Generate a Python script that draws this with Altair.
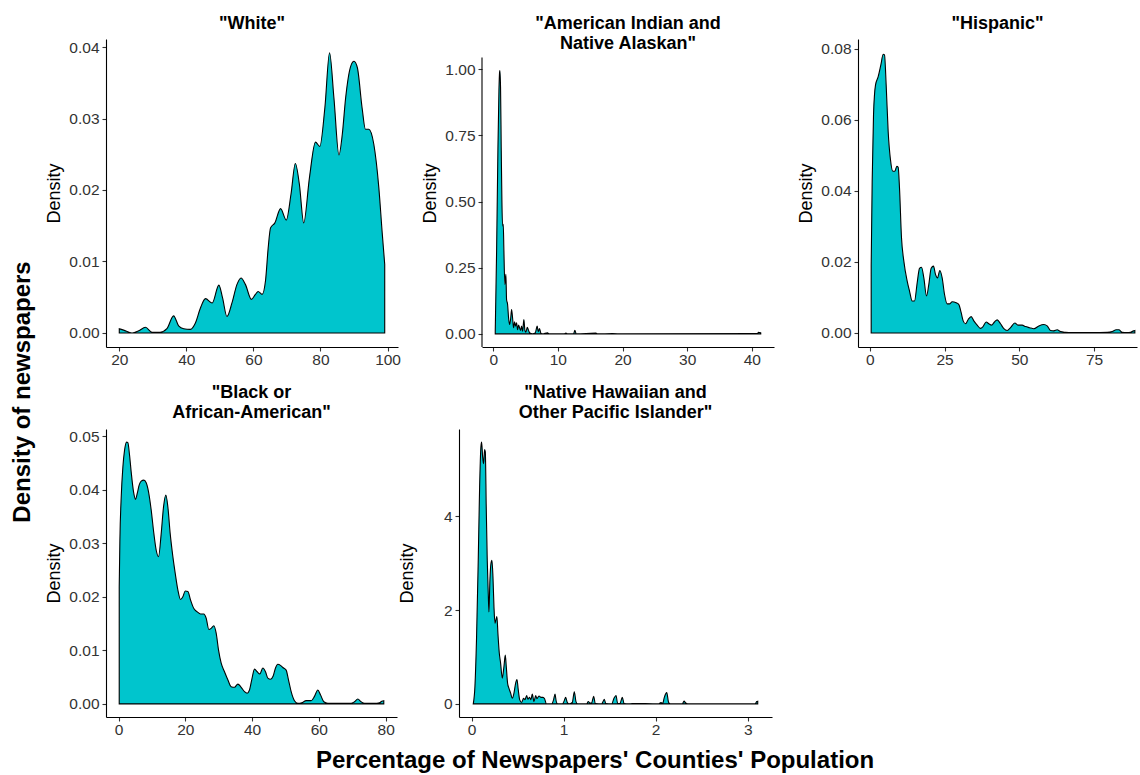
import altair as alt
import pandas as pd

FILL = "#00C5CD"
FONT = "Liberation Sans"

# ---- density curves (percentage of county population vs. density) ----
WHITE_X = [20.0, 21.3, 23.8, 25.8, 27.8, 29.8, 32.2, 34.2, 36.2, 37.7, 39.2, 41.2, 42.7, 44.2,
           45.7, 47.7, 49.7, 50.8, 52.1, 53.6, 55.1, 56.3, 57.6, 59.4, 60.6, 61.4, 62.6, 63.6,
           64.4, 65.1, 66.4, 68.1, 69.8, 71.2, 72.5, 73.7, 75.0, 76.7, 78.5, 79.8, 81.3, 82.7,
           84.0, 85.5, 86.5, 87.5, 89.0, 90.0, 91.0, 92.4, 93.4, 94.4, 95.9, 97.4, 98.4, 99.15]
WHITE_Y = [0.0006, 0.0004, 0.0, 0.0003, 0.0008, 0.0001, 0.0001, 0.0006, 0.0024, 0.0010, 0.0006,
           0.0005, 0.0014, 0.0035, 0.0048, 0.0042, 0.0067, 0.0049, 0.0023, 0.0042, 0.0068, 0.0077,
           0.0068, 0.0047, 0.0054, 0.0058, 0.0054, 0.0073, 0.0119, 0.0147, 0.0154, 0.0174, 0.0158,
           0.0194, 0.0237, 0.0208, 0.0154, 0.0217, 0.0267, 0.0261, 0.0315, 0.0392, 0.0329, 0.0249,
           0.0278, 0.0329, 0.0373, 0.0380, 0.0371, 0.0315, 0.0285, 0.0285, 0.0264, 0.0203, 0.0140,
           0.0096]

AIAN_X = [0.31, 0.52, 0.72, 0.88, 0.98, 1.03, 1.13, 1.24, 1.34, 1.44, 1.55, 1.65, 1.80, 1.96,
          2.06, 2.22, 2.37, 2.53, 2.68, 2.84, 2.99, 3.14, 3.30, 3.45, 3.61, 3.76, 3.92, 4.07,
          4.23, 4.38, 4.54, 4.74, 4.90, 5.05, 5.26, 5.46, 5.67, 6.08, 6.49, 6.80, 6.96, 7.16,
          7.37, 7.63, 8.40, 8.66, 10.98, 11.24, 11.49, 12.42, 12.63, 12.84, 15.88, 16.13, 18.45,
          20.0, 40.88, 41.03, 41.39]
AIAN_Y = [0.010, 0.313, 0.692, 0.919, 0.989, 0.995, 0.932, 0.692, 0.503, 0.408, 0.414, 0.313,
          0.187, 0.225, 0.130, 0.111, 0.061, 0.035, 0.054, 0.092, 0.061, 0.023, 0.045, 0.029,
          0.042, 0.016, 0.033, 0.023, 0.013, 0.029, 0.010, 0.054, 0.013, 0.006, 0.025, 0.013,
          0.003, 0.0, 0.003, 0.029, 0.008, 0.020, 0.003, 0.0, 0.004, 0.0, 0.0, 0.003, 0.0, 0.0,
          0.013, 0.0, 0.003, 0.0, 0.001, 0.0, 0.001, 0.006, 0.004]

HISP_X = [0.45, 0.78, 1.23, 1.90, 2.79, 3.68, 4.46, 4.91, 5.46, 6.13, 6.91, 7.69, 8.36, 9.03,
          9.48, 9.92, 10.59, 11.37, 12.49, 13.27, 14.16, 14.94, 15.83, 16.61, 17.28, 18.06,
          18.95, 19.73, 20.51, 21.29, 21.96, 22.63, 23.41, 24.19, 24.97, 25.86, 26.64, 27.54,
          28.87, 29.77, 30.55, 31.22, 32.0, 32.89, 33.89, 34.78, 35.90, 37.01, 37.79, 38.91,
          39.80, 40.69, 41.69, 42.59, 43.70, 44.82, 45.93, 47.05, 48.49, 49.61, 50.95, 52.06,
          53.40, 54.85, 56.52, 58.19, 59.31, 60.42, 61.54, 62.65, 63.77, 65.44, 67.67, 74.36,
          79.38, 81.05, 82.39, 83.28, 84.39, 86.06, 87.18, 88.18, 88.63]
HISP_Y = [0.0190, 0.0427, 0.0614, 0.0698, 0.0721, 0.0754, 0.0784, 0.0782, 0.0698, 0.0567,
          0.0487, 0.0455, 0.0455, 0.0469, 0.0466, 0.0408, 0.0268, 0.0202, 0.0146, 0.0118,
          0.0090, 0.0090, 0.0141, 0.0182, 0.0185, 0.0155, 0.0104, 0.0137, 0.0182, 0.0188,
          0.0165, 0.0155, 0.0176, 0.0155, 0.0109, 0.0082, 0.0082, 0.0088, 0.0085, 0.0080,
          0.0057, 0.0034, 0.0026, 0.0038, 0.0046, 0.0034, 0.0022, 0.0013, 0.0017, 0.0031,
          0.0026, 0.0022, 0.0031, 0.0037, 0.0026, 0.0012, 0.0007, 0.0015, 0.0028, 0.0022,
          0.0022, 0.0018, 0.0015, 0.0012, 0.0020, 0.0024, 0.0020, 0.0007, 0.0006, 0.0009,
          0.0004, 0.0002, 0.0001, 0.0001, 0.0002, 0.0004, 0.0009, 0.0009, 0.0002, 0.0001,
          0.0002, 0.0006, 0.0007]

BLACK_X = [0.2, 0.4, 0.8, 1.3, 1.8, 2.4, 2.79, 3.29, 3.79, 4.49, 5.09, 5.59, 6.19, 6.79, 7.58,
           8.28, 8.98, 9.78, 10.58, 11.28, 11.98, 12.77, 13.47, 14.17, 14.77, 15.47, 16.27,
           16.97, 17.76, 18.56, 19.26, 19.96, 20.76, 21.56, 22.55, 23.55, 24.55, 25.55, 26.25,
           27.05, 27.74, 28.54, 29.24, 29.94, 30.74, 31.74, 32.73, 33.73, 34.73, 35.73, 36.73,
           37.72, 38.52, 39.22, 39.92, 40.72, 41.52, 42.32, 43.21, 44.01, 44.71, 45.51, 46.31,
           47.01, 47.70, 48.50, 49.20, 50.20, 50.90, 51.70, 52.69, 53.69, 54.89, 56.19, 57.68,
           58.68, 59.68, 60.48, 61.48, 62.67, 65.67, 69.66, 70.66, 71.66, 72.65, 73.65, 76.65,
           78.14, 78.84, 79.44]
BLACK_Y = [0.0219, 0.0306, 0.0387, 0.0443, 0.0474, 0.0489, 0.0488, 0.0465, 0.0433, 0.0396,
           0.0382, 0.0393, 0.0409, 0.0416, 0.0418, 0.0413, 0.0396, 0.0362, 0.0318, 0.0287,
           0.0275, 0.0318, 0.0368, 0.0390, 0.0368, 0.0318, 0.0275, 0.0244, 0.0213, 0.0195,
           0.0200, 0.0211, 0.0210, 0.0194, 0.0178, 0.0172, 0.0168, 0.0168, 0.0160, 0.0139,
           0.0141, 0.0146, 0.0132, 0.0101, 0.0076, 0.0060, 0.0045, 0.0032, 0.0031, 0.0037,
           0.0031, 0.0023, 0.0020, 0.0026, 0.0046, 0.0065, 0.0060, 0.0056, 0.0067, 0.0060,
           0.0048, 0.0046, 0.0052, 0.0067, 0.0074, 0.0072, 0.0068, 0.0063, 0.0045, 0.0023,
           0.0006, 0.0001, 0.0002, 0.0006, 0.0006, 0.0014, 0.0026, 0.0017, 0.0004, 0.0001,
           0.0001, 0.0001, 0.0004, 0.0009, 0.0004, 0.0001, 0.0001, 0.0002, 0.0005, 0.0006]

NHPI_X = [0.018, 0.036, 0.054, 0.072, 0.087, 0.101, 0.109, 0.120, 0.130, 0.141, 0.149, 0.159,
          0.170, 0.181, 0.188, 0.199, 0.210, 0.221, 0.232, 0.243, 0.254, 0.264, 0.275, 0.286,
          0.301, 0.315, 0.333, 0.351, 0.366, 0.377, 0.391, 0.406, 0.424, 0.442, 0.460, 0.478,
          0.493, 0.507, 0.522, 0.543, 0.565, 0.580, 0.598, 0.612, 0.630, 0.645, 0.659, 0.678,
          0.696, 0.710, 0.732, 0.754, 0.775, 0.793, 0.812, 0.870, 0.891, 0.906, 0.920, 0.935,
          0.986, 1.007, 1.022, 1.040, 1.058, 1.094, 1.116, 1.134, 1.152, 1.250, 1.268, 1.286,
          1.304, 1.326, 1.344, 1.413, 1.428, 1.442, 1.457, 1.522, 1.547, 1.569, 1.587, 1.612,
          1.638, 1.656, 1.703, 1.746, 2.030, 2.058, 2.076, 2.094, 2.120, 2.141, 2.159, 2.290,
          2.308, 2.326, 2.348, 3.080, 3.098, 3.109]
NHPI_Y = [0.0, 0.37, 1.43, 3.06, 4.62, 5.48, 5.58, 5.26, 5.12, 5.42, 5.37, 4.20, 3.06, 2.35,
          1.96, 2.64, 2.99, 3.06, 2.71, 2.07, 1.72, 1.79, 1.86, 1.50, 1.08, 0.87, 0.55, 0.79,
          1.04, 0.79, 0.44, 0.33, 0.23, 0.12, 0.23, 0.44, 0.52, 0.30, 0.09, 0.03, 0.12, 0.09,
          0.18, 0.10, 0.14, 0.09, 0.21, 0.05, 0.18, 0.11, 0.17, 0.14, 0.14, 0.11, 0.0, 0.0,
          0.09, 0.21, 0.05, 0.0, 0.0, 0.07, 0.14, 0.03, 0.0, 0.03, 0.26, 0.05, 0.0, 0.0, 0.05,
          0.02, 0.02, 0.16, 0.01, 0.0, 0.05, 0.10, 0.01, 0.0, 0.12, 0.18, 0.01, 0.01, 0.14,
          0.01, 0.0, 0.01, 0.0, 0.03, 0.01, 0.14, 0.24, 0.03, 0.0, 0.0, 0.06, 0.02, 0.0, 0.0,
          0.05, 0.057]

TITLE_STYLE = dict(fontSize=18, fontWeight="bold", anchor="middle", frame="group",
                   baseline="alphabetic", lineHeight=20, color="black", font=FONT)


def density_panel(xs, ys, title, x_dom, y_dom, x_ticks, y_ticks, y_fmt, x_fmt,
                  width, height, title_offset, axis_line_top=None):
    df = pd.DataFrame({"pct": xs, "density": ys})
    y_axis = alt.Axis(values=y_ticks, format=y_fmt, title="Density",
                      minExtent=36, maxExtent=36, titlePadding=7, labelPadding=3,
                      domain=axis_line_top is None)
    area = alt.Chart(df).mark_area(
        fill=FILL, stroke="black", strokeWidth=1.1, interpolate="monotone"
    ).encode(
        x=alt.X("pct:Q", scale=alt.Scale(domain=x_dom, nice=False, zero=False),
                axis=alt.Axis(values=x_ticks, format=x_fmt, title=None, labelPadding=1)),
        y=alt.Y("density:Q", scale=alt.Scale(domain=y_dom, nice=False, zero=False),
                axis=y_axis),
        y2=alt.datum(0),
    )
    chart = area
    if axis_line_top is not None:
        # y axis line that starts at the top of the expanded range
        line = alt.Chart(pd.DataFrame({"k": [0]})).mark_rule(
            color="black", strokeWidth=1.1
        ).encode(x=alt.value(0), y=alt.value(axis_line_top), y2=alt.value(height))
        chart = alt.layer(area, line)
    return chart.properties(
        width=width, height=height,
        title=alt.TitleParams(text=title, offset=title_offset, **TITLE_STYLE),
    )


p_white = density_panel(WHITE_X, WHITE_Y, ['"White"'], [16.04, 103.11], [-0.00196, 0.04112],
                        [20, 40, 60, 80, 100], [0, 0.01, 0.02, 0.03, 0.04], ".2f", "d",
                        292, 308, -7.5)
p_aian = density_panel(AIAN_X, AIAN_Y, ['"American Indian and', 'Native Alaskan"'],
                       [-1.74, 43.44], [-0.0498, 1.1146],
                       [0, 10, 20, 30, 40], [0, 0.25, 0.5, 0.75, 1.0], ".2f", "d",
                       292, 308, -28, axis_line_top=18.5)
p_hisp = density_panel(HISP_X, HISP_Y, ['"Hispanic"'], [-3.96, 89.35], [-0.00394, 0.0827],
                       [0, 25, 50, 75], [0, 0.02, 0.04, 0.06, 0.08], ".2f", "d",
                       279, 308, -7.5)
p_black = density_panel(BLACK_X, BLACK_Y, ['"Black or', 'African-American"'],
                        [-3.76, 83.4], [-0.00245, 0.05135],
                        [0, 20, 40, 60, 80], [0, 0.01, 0.02, 0.03, 0.04, 0.05], ".2f", "d",
                        291, 288, -7)
p_nhpi = density_panel(NHPI_X, NHPI_Y, ['"Native Hawaiian and', 'Other Pacific Islander"'],
                       [-0.137, 3.264], [-0.279, 5.859],
                       [0, 1, 2, 3], [0, 2, 4], "d", "d",
                       313, 288, -7)

row1 = alt.hconcat(
    p_white,
    alt.hconcat(p_aian, p_hisp, spacing=84, bounds="flush"),
    spacing=84, bounds="flush",
)
row2 = alt.hconcat(p_black, p_nhpi, spacing=62, bounds="flush")

inner = alt.vconcat(
    row1, row2, spacing=16,
    title=alt.TitleParams("Density of newspapers", orient="left", anchor="middle",
                          fontSize=24, fontWeight="bold", offset=10, dx=-16,
                          color="black", font=FONT),
)

chart = alt.vconcat(
    inner,
    title=alt.TitleParams("Percentage of Newspapers' Counties' Population", orient="bottom",
                          anchor="middle", fontSize=24, fontWeight="bold", offset=11, dx=21,
                          color="black", font=FONT),
).properties(
    padding={"left": 10, "top": 14, "right": 0, "bottom": 2},
).configure(
    font=FONT,
).configure_view(
    stroke=None,
).configure_axis(
    grid=False,
    domainColor="black",
    domainWidth=1.1,
    tickColor="#333333",
    tickWidth=1.1,
    tickSize=4,
    labelFont=FONT,
    labelFontSize=15.5,
    labelColor="#333333",
    labelFlush=False,
    labelOverlap=False,
    titleFont=FONT,
    titleFontSize=18,
    titleFontWeight="normal",
    titleColor="black",
)

chart.save("out.html", embed_options={"renderer": "svg", "actions": False})
